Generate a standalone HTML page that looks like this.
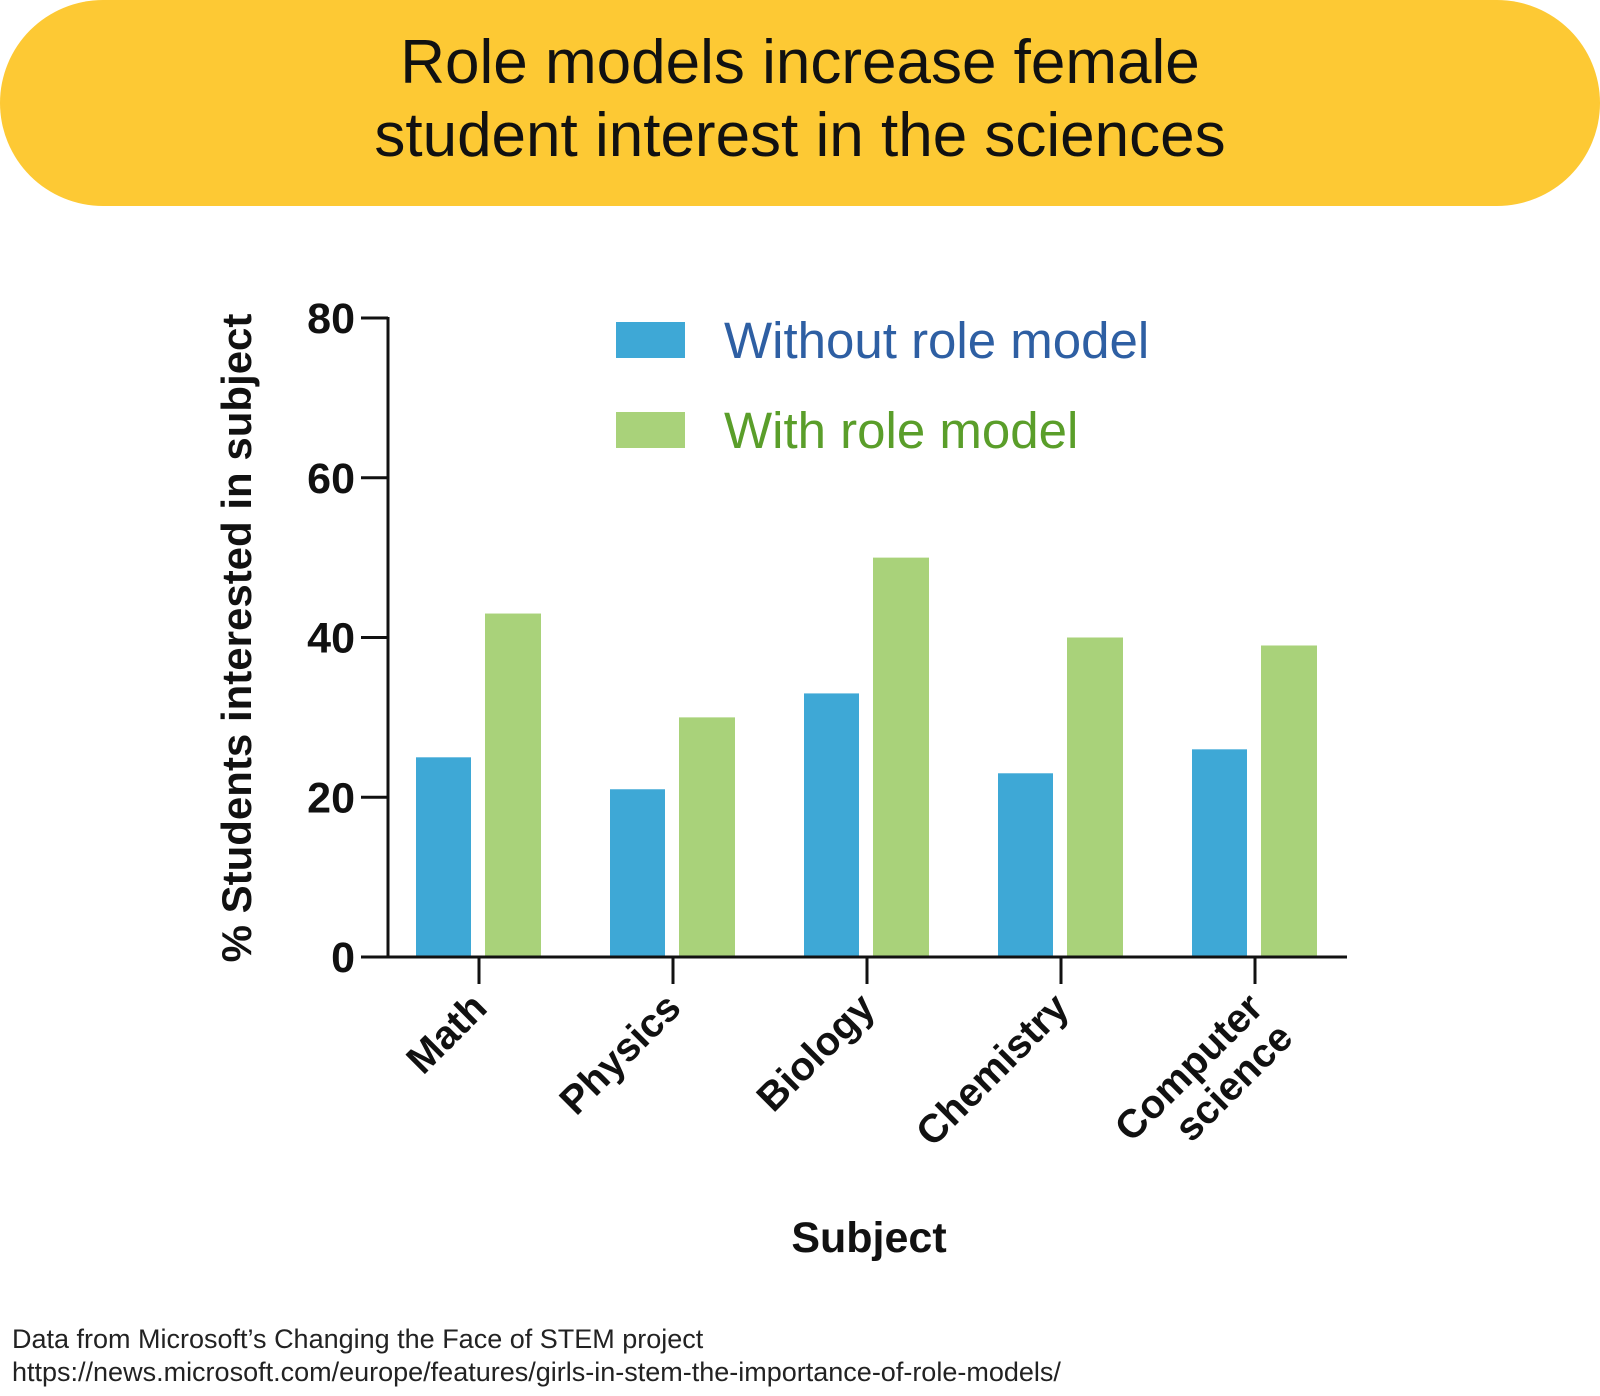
<!DOCTYPE html>
<html><head><meta charset="utf-8"><style>
body{margin:0;background:#fff;}
svg text{font-family:"Liberation Sans",Arial,sans-serif;}
</style></head><body>
<svg width="1600" height="1391" viewBox="0 0 1600 1391" xmlns="http://www.w3.org/2000/svg">
<rect x="0" y="0" width="1600" height="206" rx="103" fill="#fdc934"/>
<text x="800" y="83" font-size="62" text-anchor="middle" fill="#111">Role models increase female</text>
<text x="800" y="156" font-size="62" text-anchor="middle" fill="#111">student interest in the sciences</text>
<g id="plot"></g>
<text transform="translate(251,638) rotate(-90)" font-size="42" font-weight="bold" text-anchor="middle" fill="#111">% Students interested in subject</text>
<text x="869" y="1252" font-size="43" font-weight="bold" text-anchor="middle" fill="#111">Subject</text>
<rect x="616" y="322" width="69" height="36" fill="#3ea8d6"/>
<text x="724" y="358" font-size="51" fill="#2e5fa3">Without role model</text>
<rect x="616" y="412" width="69" height="36" fill="#a9d27a"/>
<text x="724" y="448" font-size="51" fill="#5a9e2a">With role model</text>
<text x="12" y="1348" font-size="27" fill="#222">Data from Microsoft’s Changing the Face of STEM project</text>
<text x="12" y="1381" font-size="27" fill="#222">https://news.microsoft.com/europe/features/girls-in-stem-the-importance-of-role-models/</text>
</svg>
<script>
const categories=[["Math"],["Physics"],["Biology"],["Chemistry"],["Computer","science"]];
const withoutVals=[25,21,33,23,26];
const withVals=[43,30,50,40,39];
const yTicks=[0,20,40,60,80];
const NS="http://www.w3.org/2000/svg";
const g=document.getElementById("plot");
const X0=388,X1=1347,Y0=957,Y80=318;
function y(v){return Y0-(v/80)*(Y0-Y80);}
function xc(i){return 479+i*194;}
function mk(t,a){const e=document.createElementNS(NS,t);for(const k in a)e.setAttribute(k,a[k]);g.appendChild(e);return e;}
yTicks.forEach(v=>{
  const l=mk("line",{x1:361,x2:X0,y1:y(v),y2:y(v),stroke:"#111","stroke-width":3});
  
  
  const t=mk("text",{x:355,y:y(v)+15,"font-size":43,"font-weight":"bold","text-anchor":"end",fill:"#111"});
  t.textContent=v;
  
  
});
categories.forEach((c,i)=>{
  const cx=xc(i);
  const b1=mk("rect",{x:cx-63,y:y(withoutVals[i]),width:55,height:Y0-y(withoutVals[i]),fill:"#3ea8d6"});
  
  
  const b2=mk("rect",{x:cx+6,y:y(withVals[i]),width:56,height:Y0-y(withVals[i]),fill:"#a9d27a"});
  
  
  const tk=mk("line",{x1:cx,x2:cx,y1:Y0,y2:984,stroke:"#111","stroke-width":3});
  
  
  c.forEach((s,j)=>{
    const ax=cx+10+j*30, ay=1010+j*30;
    const t=mk("text",{transform:`translate(${ax},${ay}) rotate(-45)`,"font-size":40,"font-weight":"bold","text-anchor":"end",fill:"#111"});
    t.textContent=s;
    
    
  });
});
const ya=mk("line",{x1:X0,x2:X0,y1:Y80-1,y2:Y0+1,stroke:"#111","stroke-width":3});


const xa=mk("line",{x1:X0,x2:X1,y1:Y0,y2:Y0,stroke:"#111","stroke-width":3});


</script>
</body></html>
